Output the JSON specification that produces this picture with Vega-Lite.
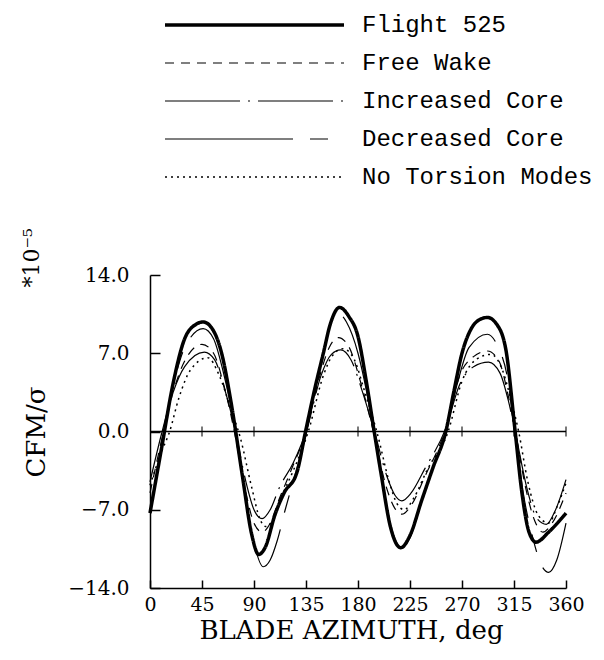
{
  "$schema": "https://vega.github.io/schema/vega-lite/v6.json",
  "width": 416,
  "height": 313,
  "autosize": {"type": "none"},
  "padding": {"left": 150, "top": 275, "right": 38, "bottom": 72},
  "background": "white",
  "config": {"view": {"stroke": null}, "font": "DejaVu Serif"},
  "datasets": {
    "curves": [
      {"series": "Flight 525", "az": 0, "v": -7.3}, {"series": "Flight 525", "az": 10, "v": -1.5}, {"series": "Flight 525", "az": 20, "v": 4.3}, {"series": "Flight 525", "az": 30, "v": 8.3}, {"series": "Flight 525", "az": 40, "v": 9.6}, {"series": "Flight 525", "az": 46, "v": 9.8}, {"series": "Flight 525", "az": 55, "v": 9.0}, {"series": "Flight 525", "az": 62, "v": 7.0}, {"series": "Flight 525", "az": 70, "v": 2.7}, {"series": "Flight 525", "az": 80, "v": -4.0}, {"series": "Flight 525", "az": 88, "v": -9.2}, {"series": "Flight 525", "az": 94, "v": -11.0}, {"series": "Flight 525", "az": 100, "v": -10.3}, {"series": "Flight 525", "az": 108, "v": -7.5}, {"series": "Flight 525", "az": 116, "v": -5.5}, {"series": "Flight 525", "az": 127, "v": -3.7}, {"series": "Flight 525", "az": 135, "v": 0.2}, {"series": "Flight 525", "az": 143, "v": 4.0}, {"series": "Flight 525", "az": 150, "v": 7.0}, {"series": "Flight 525", "az": 156, "v": 9.6}, {"series": "Flight 525", "az": 164, "v": 11.1}, {"series": "Flight 525", "az": 172, "v": 10.3}, {"series": "Flight 525", "az": 180, "v": 8.5}, {"series": "Flight 525", "az": 187, "v": 4.6}, {"series": "Flight 525", "az": 194, "v": 0}, {"series": "Flight 525", "az": 200, "v": -3.8}, {"series": "Flight 525", "az": 208, "v": -8.5}, {"series": "Flight 525", "az": 217, "v": -10.4}, {"series": "Flight 525", "az": 225, "v": -9.3}, {"series": "Flight 525", "az": 235, "v": -6.2}, {"series": "Flight 525", "az": 245, "v": -3.2}, {"series": "Flight 525", "az": 256, "v": 0}, {"series": "Flight 525", "az": 263, "v": 3.6}, {"series": "Flight 525", "az": 270, "v": 7.0}, {"series": "Flight 525", "az": 278, "v": 9.2}, {"series": "Flight 525", "az": 285, "v": 10.0}, {"series": "Flight 525", "az": 292, "v": 10.2}, {"series": "Flight 525", "az": 300, "v": 9.6}, {"series": "Flight 525", "az": 308, "v": 7.3}, {"series": "Flight 525", "az": 316, "v": 0}, {"series": "Flight 525", "az": 322, "v": -5.6}, {"series": "Flight 525", "az": 328, "v": -9.0}, {"series": "Flight 525", "az": 334, "v": -9.9}, {"series": "Flight 525", "az": 345, "v": -9.0}, {"series": "Flight 525", "az": 360, "v": -7.3},

      {"series": "Free Wake", "az": 0, "v": -5.5}, {"series": "Free Wake", "az": 10, "v": -0.8}, {"series": "Free Wake", "az": 20, "v": 3.5}, {"series": "Free Wake", "az": 30, "v": 6.3}, {"series": "Free Wake", "az": 45, "v": 7.8}, {"series": "Free Wake", "az": 55, "v": 7.0}, {"series": "Free Wake", "az": 63, "v": 4.5}, {"series": "Free Wake", "az": 73, "v": 0}, {"series": "Free Wake", "az": 82, "v": -5.0}, {"series": "Free Wake", "az": 90, "v": -8.2}, {"series": "Free Wake", "az": 97, "v": -9.0}, {"series": "Free Wake", "az": 104, "v": -8.2}, {"series": "Free Wake", "az": 112, "v": -6.0}, {"series": "Free Wake", "az": 122, "v": -3.5}, {"series": "Free Wake", "az": 135, "v": 0}, {"series": "Free Wake", "az": 147, "v": 5.0}, {"series": "Free Wake", "az": 155, "v": 7.5}, {"series": "Free Wake", "az": 163, "v": 8.4}, {"series": "Free Wake", "az": 172, "v": 7.6}, {"series": "Free Wake", "az": 182, "v": 4.5}, {"series": "Free Wake", "az": 194, "v": -0.3}, {"series": "Free Wake", "az": 204, "v": -4.8}, {"series": "Free Wake", "az": 212, "v": -6.9}, {"series": "Free Wake", "az": 218, "v": -7.4}, {"series": "Free Wake", "az": 226, "v": -6.6}, {"series": "Free Wake", "az": 238, "v": -4.0}, {"series": "Free Wake", "az": 256, "v": 0.3}, {"series": "Free Wake", "az": 268, "v": 5.0}, {"series": "Free Wake", "az": 280, "v": 6.7}, {"series": "Free Wake", "az": 292, "v": 7.2}, {"series": "Free Wake", "az": 302, "v": 6.3}, {"series": "Free Wake", "az": 310, "v": 3.2}, {"series": "Free Wake", "az": 317, "v": -0.5}, {"series": "Free Wake", "az": 325, "v": -5.0}, {"series": "Free Wake", "az": 333, "v": -8.0}, {"series": "Free Wake", "az": 340, "v": -9.0}, {"series": "Free Wake", "az": 348, "v": -8.2}, {"series": "Free Wake", "az": 360, "v": -5.5},

      {"series": "Increased Core", "az": 0, "v": -4.5}, {"series": "Increased Core", "az": 10, "v": -0.2}, {"series": "Increased Core", "az": 20, "v": 3.5}, {"series": "Increased Core", "az": 30, "v": 5.8}, {"series": "Increased Core", "az": 47, "v": 7.1}, {"series": "Increased Core", "az": 56, "v": 6.4}, {"series": "Increased Core", "az": 64, "v": 4.0}, {"series": "Increased Core", "az": 74, "v": 0}, {"series": "Increased Core", "az": 83, "v": -4.5}, {"series": "Increased Core", "az": 90, "v": -7.0}, {"series": "Increased Core", "az": 97, "v": -7.8}, {"series": "Increased Core", "az": 104, "v": -7.0}, {"series": "Increased Core", "az": 112, "v": -5.0}, {"series": "Increased Core", "az": 124, "v": -2.8}, {"series": "Increased Core", "az": 136, "v": 0.3}, {"series": "Increased Core", "az": 148, "v": 5.0}, {"series": "Increased Core", "az": 157, "v": 6.9}, {"series": "Increased Core", "az": 165, "v": 7.3}, {"series": "Increased Core", "az": 174, "v": 6.4}, {"series": "Increased Core", "az": 184, "v": 3.5}, {"series": "Increased Core", "az": 195, "v": -0.3}, {"series": "Increased Core", "az": 205, "v": -4.0}, {"series": "Increased Core", "az": 212, "v": -5.7}, {"series": "Increased Core", "az": 218, "v": -6.2}, {"series": "Increased Core", "az": 226, "v": -5.5}, {"series": "Increased Core", "az": 238, "v": -3.3}, {"series": "Increased Core", "az": 256, "v": 0.3}, {"series": "Increased Core", "az": 268, "v": 4.2}, {"series": "Increased Core", "az": 280, "v": 5.8}, {"series": "Increased Core", "az": 293, "v": 6.2}, {"series": "Increased Core", "az": 303, "v": 5.2}, {"series": "Increased Core", "az": 310, "v": 2.8}, {"series": "Increased Core", "az": 317, "v": -0.5}, {"series": "Increased Core", "az": 326, "v": -5.0}, {"series": "Increased Core", "az": 335, "v": -7.8}, {"series": "Increased Core", "az": 343, "v": -8.3}, {"series": "Increased Core", "az": 351, "v": -7.0}, {"series": "Increased Core", "az": 360, "v": -4.3},

      {"series": "Decreased Core", "az": 0, "v": -7.2}, {"series": "Decreased Core", "az": 10, "v": -1.5}, {"series": "Decreased Core", "az": 20, "v": 4.0}, {"series": "Decreased Core", "az": 30, "v": 7.5}, {"series": "Decreased Core", "az": 46, "v": 9.2}, {"series": "Decreased Core", "az": 55, "v": 8.3}, {"series": "Decreased Core", "az": 63, "v": 5.5}, {"series": "Decreased Core", "az": 74, "v": 0}, {"series": "Decreased Core", "az": 82, "v": -5.5}, {"series": "Decreased Core", "az": 90, "v": -10.0}, {"series": "Decreased Core", "az": 98, "v": -12.1}, {"series": "Decreased Core", "az": 104, "v": -11.5}, {"series": "Decreased Core", "az": 110, "v": -9.8}, {"series": "Decreased Core", "az": 117, "v": -7.0}, {"series": "Decreased Core", "az": 126, "v": -3.7}, {"series": "Decreased Core", "az": 135, "v": -0.3}, {"series": "Decreased Core", "az": 145, "v": 4.8}, {"series": "Decreased Core", "az": 153, "v": 8.5}, {"series": "Decreased Core", "az": 162, "v": 10.6}, {"series": "Decreased Core", "az": 170, "v": 9.8}, {"series": "Decreased Core", "az": 180, "v": 7.0}, {"series": "Decreased Core", "az": 187, "v": 3.8}, {"series": "Decreased Core", "az": 194, "v": -0.2}, {"series": "Decreased Core", "az": 201, "v": -4.5}, {"series": "Decreased Core", "az": 209, "v": -8.6}, {"series": "Decreased Core", "az": 217, "v": -10.4}, {"series": "Decreased Core", "az": 225, "v": -9.5}, {"series": "Decreased Core", "az": 235, "v": -6.3}, {"series": "Decreased Core", "az": 245, "v": -3.2}, {"series": "Decreased Core", "az": 256, "v": 0}, {"series": "Decreased Core", "az": 266, "v": 4.3}, {"series": "Decreased Core", "az": 276, "v": 7.5}, {"series": "Decreased Core", "az": 292, "v": 8.7}, {"series": "Decreased Core", "az": 301, "v": 7.6}, {"series": "Decreased Core", "az": 309, "v": 5.0}, {"series": "Decreased Core", "az": 316, "v": -0.3}, {"series": "Decreased Core", "az": 323, "v": -5.5}, {"series": "Decreased Core", "az": 332, "v": -9.8}, {"series": "Decreased Core", "az": 338, "v": -11.8}, {"series": "Decreased Core", "az": 345, "v": -12.6}, {"series": "Decreased Core", "az": 352, "v": -11.5}, {"series": "Decreased Core", "az": 360, "v": -8.2},

      {"series": "No Torsion Modes", "az": 0, "v": -4.8}, {"series": "No Torsion Modes", "az": 10, "v": -1.8}, {"series": "No Torsion Modes", "az": 17, "v": 0}, {"series": "No Torsion Modes", "az": 25, "v": 3.0}, {"series": "No Torsion Modes", "az": 35, "v": 5.5}, {"series": "No Torsion Modes", "az": 50, "v": 6.6}, {"series": "No Torsion Modes", "az": 60, "v": 5.0}, {"series": "No Torsion Modes", "az": 70, "v": 2.0}, {"series": "No Torsion Modes", "az": 78, "v": -0.5}, {"series": "No Torsion Modes", "az": 88, "v": -5.0}, {"series": "No Torsion Modes", "az": 95, "v": -7.8}, {"series": "No Torsion Modes", "az": 100, "v": -8.5}, {"series": "No Torsion Modes", "az": 106, "v": -8.0}, {"series": "No Torsion Modes", "az": 114, "v": -5.8}, {"series": "No Torsion Modes", "az": 124, "v": -3.5}, {"series": "No Torsion Modes", "az": 137, "v": 0}, {"series": "No Torsion Modes", "az": 150, "v": 5.0}, {"series": "No Torsion Modes", "az": 158, "v": 6.8}, {"series": "No Torsion Modes", "az": 167, "v": 7.4}, {"series": "No Torsion Modes", "az": 176, "v": 6.6}, {"series": "No Torsion Modes", "az": 186, "v": 3.5}, {"series": "No Torsion Modes", "az": 197, "v": -0.3}, {"series": "No Torsion Modes", "az": 207, "v": -4.5}, {"series": "No Torsion Modes", "az": 214, "v": -6.5}, {"series": "No Torsion Modes", "az": 220, "v": -7.0}, {"series": "No Torsion Modes", "az": 228, "v": -6.0}, {"series": "No Torsion Modes", "az": 240, "v": -3.4}, {"series": "No Torsion Modes", "az": 258, "v": 0}, {"series": "No Torsion Modes", "az": 270, "v": 4.5}, {"series": "No Torsion Modes", "az": 283, "v": 6.5}, {"series": "No Torsion Modes", "az": 295, "v": 6.9}, {"series": "No Torsion Modes", "az": 305, "v": 5.5}, {"series": "No Torsion Modes", "az": 312, "v": 3.0}, {"series": "No Torsion Modes", "az": 319, "v": 0}, {"series": "No Torsion Modes", "az": 327, "v": -4.5}, {"series": "No Torsion Modes", "az": 336, "v": -7.5}, {"series": "No Torsion Modes", "az": 345, "v": -8.2}, {"series": "No Torsion Modes", "az": 352, "v": -6.8}, {"series": "No Torsion Modes", "az": 360, "v": -4.6}
    ],
    "zeroTicks": [{"az": 45}, {"az": 90}, {"az": 135}, {"az": 180}, {"az": 225}, {"az": 270}, {"az": 315}, {"az": 360}],
    "note": [{"label": "*10⁻⁵"}]
  },
  "layer": [
    {
      "data": {"name": "curves"},
      "mark": {"type": "line", "interpolate": "monotone", "color": "black"},
      "encoding": {
        "x": {
          "field": "az", "type": "quantitative",
          "scale": {"domain": [0, 360], "nice": false, "zero": false},
          "axis": {
            "values": [0, 45, 90, 135, 180, 225, 270, 315, 360],
            "format": "d", "grid": false, "labelFlush": false,
            "tickSize": -8, "tickWidth": 1.5, "tickColor": "black",
            "domainColor": "black", "domainWidth": 1.5,
            "labelPadding": 15, "labelFont": "DejaVu Serif", "labelFontSize": 19, "labelColor": "black",
            "title": "BLADE AZIMUTH, deg", "titleFont": "DejaVu Serif", "titleFontSize": 26,
            "titleFontWeight": "normal", "titleColor": "black", "titlePadding": 3, "titleX": 201
          }
        },
        "y": {
          "field": "v", "type": "quantitative",
          "scale": {"domain": [-14, 14], "nice": false, "zero": false},
          "axis": {
            "values": [-14, -7, 0, 7, 14],
            "format": ".1f", "grid": false,
            "tickSize": -10, "tickWidth": 1.5, "tickColor": "black",
            "domainColor": "black", "domainWidth": 1.5,
            "labelPadding": 31, "labelFont": "DejaVu Serif", "labelFontSize": 20, "labelColor": "black",
            "title": "CFM/σ", "titleFont": "DejaVu Serif", "titleFontSize": 26,
            "titleFontWeight": "normal", "titleColor": "black", "titlePadding": 18
          }
        },
        "strokeDash": {
          "field": "series", "type": "nominal",
          "scale": {
            "domain": ["Flight 525", "Free Wake", "Increased Core", "Decreased Core", "No Torsion Modes"],
            "range": [[1, 0], [9, 7], [75, 8, 2, 8], [128, 17, 18, 17], [2, 4]]
          },
          "legend": {
            "orient": "none", "legendX": 13, "legendY": -263, "title": null,
            "symbolType": "stroke", "symbolSize": 32041, "symbolStrokeColor": "black",
            "labelFont": "Liberation Mono", "labelFontSize": 24, "labelColor": "black",
            "labelOffset": 16, "labelLimit": 400, "clipHeight": 26, "rowPadding": 12, "padding": 0
          }
        },
        "strokeWidth": {
          "field": "series", "type": "nominal",
          "scale": {
            "type": "ordinal",
            "domain": ["Flight 525", "Free Wake", "Increased Core", "Decreased Core", "No Torsion Modes"],
            "range": [3.5, 1.2, 1.2, 1.2, 1.5]
          },
          "legend": {
            "orient": "none", "legendX": 13, "legendY": -263, "title": null,
            "symbolType": "stroke", "symbolSize": 32041, "symbolStrokeColor": "black",
            "labelFont": "Liberation Mono", "labelFontSize": 24, "labelColor": "black",
            "labelOffset": 16, "labelLimit": 400, "clipHeight": 26, "rowPadding": 12, "padding": 0
          }
        }
      }
    },
    {
      "data": {"values": [{}]},
      "mark": {"type": "rule", "color": "black", "strokeWidth": 1.5},
      "encoding": {"y": {"datum": 0}}
    },
    {
      "data": {"name": "zeroTicks"},
      "mark": {"type": "tick", "orient": "vertical", "size": 10, "thickness": 1.5, "color": "black"},
      "encoding": {"x": {"field": "az", "type": "quantitative"}, "y": {"datum": 0}}
    },
    {
      "data": {"name": "note"},
      "mark": {"type": "text", "angle": 270, "align": "right", "baseline": "middle", "font": "DejaVu Serif", "fontSize": 22, "color": "black"},
      "encoding": {"x": {"datum": -102.5}, "y": {"datum": 18.2}, "text": {"field": "label"}}
    }
  ]
}
